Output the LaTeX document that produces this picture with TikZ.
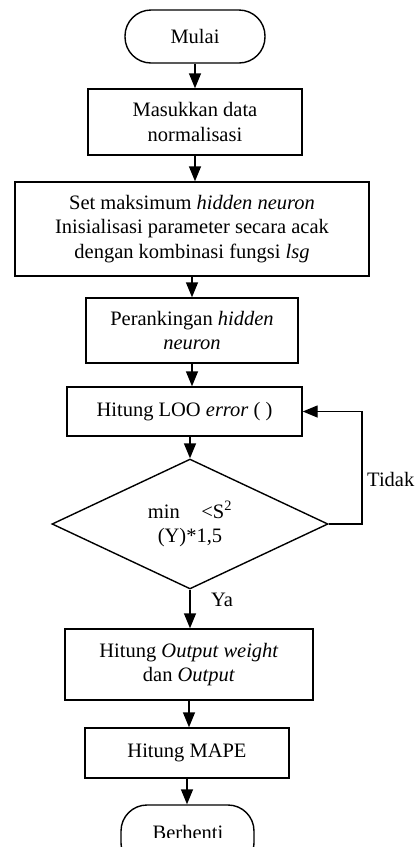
\documentclass[tikz,border=0pt]{standalone}
\usepackage{fontspec}
\setmainfont{Liberation Serif}
\usetikzlibrary{shapes.geometric,arrows.meta}
\begin{document}
\begin{tikzpicture}[x=1pt,y=-1pt,
  every node/.style={font=\fontsize{20.5}{24.5}\selectfont},
  box/.style={draw,line width=1.4pt,align=center,inner sep=0pt},
  term/.style={draw,line width=1.4pt,rounded corners=26pt,inner sep=0pt,align=center},
  decide/.style={draw,diamond,line width=1.4pt,inner sep=0pt,align=center,minimum width=276pt,minimum height=126pt},
  arr/.style={line width=1.4pt,-{Triangle[width=12pt,length=15pt]}},
  lbl/.style={inner sep=0pt,anchor=west}]
\useasboundingbox (0,0) rectangle (418,847);
\node[term,minimum width=140pt,minimum height=53pt] (start) at (195,36.5) {Mulai};
\node[box,minimum width=214pt,minimum height=66pt] (in) at (195,122) {Masukkan data\\normalisasi};
\node[box,minimum width=354pt,minimum height=94pt] (init) at (192,229) {Set maksimum \textit{hidden neuron}\\Inisialisasi parameter secara acak\\dengan kombinasi fungsi \textit{lsg}};
\node[box,minimum width=212pt,minimum height=65pt] (rank) at (192,330.5) {Perankingan \textit{hidden}\\\textit{neuron}};
\node[box,minimum width=235pt,minimum height=49pt] (loo) at (184.5,411.5) {Hitung LOO \textit{error} ( )};
\node[decide] (dia) at (190,524) {min\hspace{1.05em}<S\textsuperscript{2}\\(Y)*1,5};
\node[box,minimum width=248pt,minimum height=71pt] (out) at (189,664.5) {Hitung \textit{Output weight}\\dan \textit{Output}};
\node[box,minimum width=204pt,minimum height=50pt] (mape) at (187,753) {Hitung MAPE};
\node[term,minimum width=133pt,minimum height=64pt] (stop) at (187.5,837) {};
\begin{scope}
  \clip (0,0) rectangle (418,837.5);
  \node[inner sep=0pt,anchor=base] (stoptxt) at (188,839.5) {Berhenti};
\end{scope}
\node[lbl] (tidak) at (367,479) {Tidak};
\node[lbl] (ya) at (211,600) {Ya};
\coordinate (fbx) at (362,0);
\draw[arr] (start.south) -- (start.south |- in.north);
\draw[arr] (in.south) -- (in.south |- init.north);
\draw[arr] (rank.north |- init.south) -- (rank.north);
\draw[arr] (rank.south) -- (rank.south |- loo.north);
\draw[arr] (dia.north |- loo.south) -- (dia.north);
\draw[arr] (dia.east) -- (dia.east -| fbx) |- (loo.east);
\draw[arr] (dia.south) -- (dia.south |- out.north);
\draw[arr] (out.south) -- (out.south |- mape.north);
\draw[arr] (mape.south) -- (mape.south |- stop.north);
\end{tikzpicture}
\end{document}
